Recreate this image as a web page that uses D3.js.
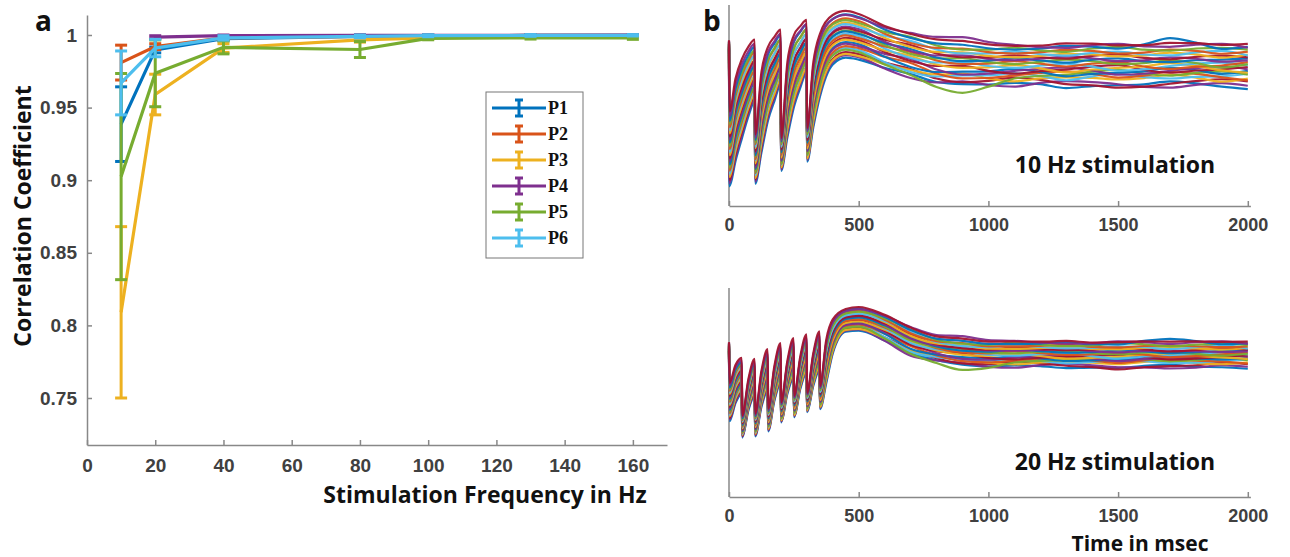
<!DOCTYPE html>
<html>
<head>
<meta charset="utf-8">
<script src="https://d3js.org/d3.v7.min.js"></script>
<style>
  body { margin: 0; background: #fff; }
  .tick text { font-family: "Liberation Sans", Arial, sans-serif; font-weight: bold; fill: #404040; }
  .lbl { font-family: "Open Sans", sans-serif; font-weight: bold; fill: #111; }
</style>
</head>
<body>
<script>
// ---- panel a data ----
const freqs = [10, 20, 40, 80, 100, 130, 160];
const series = ["P1", "P2", "P3", "P4", "P5", "P6"];
const colors = ["#0072BD", "#D95319", "#EDB120", "#7E2F8E", "#77AC30", "#4DBEEE", "#A2142F"];
const means = [
  [0.9386, 0.9897, 0.9975, 0.9990, 0.9995, 0.9997, 0.9998],
  [0.981, 0.992, 0.998, 0.999, 0.9995, 0.9997, 0.9998],
  [0.809, 0.959, 0.991, 0.9966, 0.998, 0.999, 0.9992],
  [null, 0.9985, 0.9995, 0.9997, 0.9998, 0.9998, 0.9999],
  [0.9025, 0.9736, 0.9915, 0.990, 0.9977, 0.998, 0.998],
  [0.967, 0.991, 0.998, 0.9990, 0.9995, 0.9997, 0.9998]
];
const errs = [
  [0.0257, 0.002, 0.0015, 0.001, 0.0005, 0.0004, 0.0003],
  [0.012, 0.002, 0.001, 0.0008, 0.0005, 0.0004, 0.0003],
  [0.059, 0.014, 0.003, 0.0015, 0.001, 0.0006, 0.0005],
  [null, 0.001, 0.0005, 0.0003, 0.0002, 0.0002, 0.0002],
  [0.071, 0.023, 0.0045, 0.0055, 0.001, 0.0008, 0.001],
  [0.022, 0.006, 0.0015, 0.001, 0.0007, 0.0006, 0.0005]
];
const xTicksA = [0, 20, 40, 60, 80, 100, 120, 140, 160];
const yTicksA = [0.75, 0.8, 0.85, 0.9, 0.95, 1];
const yTickLabelsA = ["0.75", "0.8", "0.85", "0.9", "0.95", "1"];

// ---- panel b data (normalised response 0-100, read as band envelopes) ----
const t10 = [0, 2, 25, 50, 75, 99, 101, 125, 150, 175, 199, 201, 225, 250, 275, 299, 301, 325, 350, 400, 450, 500,
  600, 700, 800, 900, 1000, 1100, 1200, 1300, 1400, 1500, 1600, 1700, 1800, 1900, 2000];
const hi10 = [82.6, 47.8, 64.2, 74.1, 80.1, 83.6, 36.3, 67.7, 80.1, 85.1, 88.6, 34.3, 72.6, 86.1, 90.5, 93.5, 39.3, 72.6, 86.6, 96.0, 98.0, 96.5,
  91.0, 87.6, 84.1, 82.6, 81.6, 81.6, 81.1, 81.6, 82.0, 81.6, 81.1, 81.6, 82.0, 81.6, 81.1];
const lo10 = [77.6, 9.0, 21.4, 32.8, 43.8, 51.2, 10.4, 25.4, 41.3, 51.2, 59.2, 16.9, 32.8, 47.8, 57.7, 65.2, 21.4, 37.8, 52.7, 69.2, 72.6, 71.6,
  66.7, 62.7, 59.2, 58.7, 57.7, 57.7, 58.2, 57.2, 57.7, 57.7, 57.2, 57.7, 57.7, 57.2, 57.2];

const t20 = [0, 2, 25, 49, 51, 75, 99, 101, 125, 149, 151, 175, 199, 201, 225, 249, 251, 275, 299, 301, 325, 349, 351, 375, 400, 450, 500,
  600, 700, 800, 900, 1000, 1100, 1200, 1300, 1400, 1500, 1600, 1700, 1800, 1900, 2000];
const hi20 = [74.2, 55.0, 63.6, 67.0, 39.2, 56.9, 66.5, 40.2, 60.8, 71.3, 42.6, 63.2, 74.2, 45.5, 65.6, 76.6, 48.8, 67.9, 78.5, 50.2, 69.4, 79.9, 53.6, 76.1, 85.6, 90.4, 91.4,
  88.0, 82.3, 77.5, 76.1, 75.1, 75.6, 75.1, 75.1, 74.6, 75.1, 75.1, 74.6, 75.1, 75.1, 74.6];
const lo20 = [69.4, 35.9, 44.5, 48.8, 28.2, 41.2, 47.9, 28.7, 42.6, 50.2, 31.1, 45.5, 53.6, 35.4, 48.8, 56.0, 37.8, 51.2, 58.4, 40.2, 52.6, 59.8, 41.6, 53.6, 67.9, 78.5, 79.0,
  73.7, 67.0, 64.1, 62.2, 60.8, 60.8, 61.2, 60.8, 60.8, 60.3, 60.8, 60.8, 60.3, 60.8, 60.8];

// position of each trace inside the band (0 = lower edge, 1 = upper edge) at these times
const fracT = [0, 500, 700, 900, 1100, 1300, 1500, 1700, 1900, 2000];
const traceFracs = [
  [0.02, 0.05, 0.12, 0.08, 0.15, 0.06, 0.10, 0.18, 0.09, 0.04],
  [0.06, 0.10, 0.04, 0.14, 0.07, 0.20, 0.12, 0.05, 0.16, 0.11],
  [0.10, 0.16, 0.22, 0.12, 0.26, 0.14, 0.05, 0.13, 0.24, 0.20],
  [0.14, 0.12, 0.20, 0.30, 0.18, 0.28, 0.22, 0.32, 0.19, 0.26],
  [0.18, 0.24, 0.16, 0.26, 0.35, 0.22, 0.34, 0.24, 0.30, 0.36],
  [0.22, 0.28, 0.34, 0.20, 0.30, 0.40, 0.26, 0.38, 0.28, 0.22],
  [0.26, 0.20, 0.10, -0.10, 0.24, 0.33, 0.42, 0.30, 0.40, 0.34],
  [0.30, 0.36, 0.26, 0.34, 0.44, 0.30, 0.36, 0.46, 0.35, 0.42],
  [0.34, 0.32, 0.42, 0.28, 0.40, 0.48, 0.32, 0.40, 0.50, 0.45],
  [0.38, 0.44, 0.38, 0.46, 0.34, 0.44, 0.52, 0.36, 0.44, 0.50],
  [0.42, 0.40, 0.48, 0.42, 0.52, 0.38, 0.46, 0.56, 0.42, 0.38],
  [0.46, 0.52, 0.44, 0.54, 0.46, 0.56, 0.40, 0.50, 0.58, 0.54],
  [0.50, 0.48, 0.56, 0.50, 0.60, 0.50, 0.58, 0.44, 0.52, 0.60],
  [0.54, 0.58, 0.52, 0.62, 0.54, 0.64, 0.54, 0.62, 0.48, 0.56],
  [0.58, 0.56, 0.62, 0.56, 0.66, 0.58, 0.66, 0.58, 0.64, 0.68],
  [0.62, 0.66, 0.58, 0.68, 0.62, 0.70, 0.60, 0.68, 0.60, 0.64],
  [0.66, 0.62, 0.70, 0.64, 0.72, 0.66, 0.74, 0.64, 0.72, 0.70],
  [0.70, 0.74, 0.66, 0.74, 0.68, 0.76, 0.70, 0.78, 0.68, 0.76],
  [0.74, 0.70, 0.78, 0.72, 0.80, 0.72, 0.80, 0.72, 0.82, 0.74],
  [0.78, 0.82, 0.74, 0.82, 0.76, 0.84, 0.76, 0.84, 0.76, 0.82],
  [0.82, 0.78, 0.86, 0.80, 0.88, 0.80, 0.90, 0.82, 0.88, 0.86],
  [0.86, 0.90, 0.84, 0.90, 0.84, 0.92, 0.86, 1.08, 0.86, 0.92],
  [0.92, 0.88, 0.94, 1.06, 0.94, 0.88, 0.96, 0.90, 0.96, 0.90],
  [0.98, 0.96, 0.92, 0.98, 0.92, 0.97, 0.93, 0.98, 0.94, 0.98]
];
const xTicksB = [0, 500, 1000, 1500, 2000];

const W = 1290, H = 557;
const svg = d3.select("body").append("svg").attr("width", W).attr("height", H);

// ================= panel a =================
const xa = d3.scaleLinear().domain([0, 170]).range([87, 667]);
const ya = d3.scaleLinear().domain([0.71763, 1.01377]).range([445, 15]);

const axA = svg.append("g");
axA.append("g").attr("transform", "translate(0,445)")
  .call(d3.axisBottom(xa).tickValues(xTicksA).tickSizeInner(-5).tickSizeOuter(0).tickPadding(14));
axA.append("g").attr("transform", "translate(87,0)")
  .call(d3.axisLeft(ya).tickValues(yTicksA).tickFormat((d, i) => yTickLabelsA[i]).tickSizeInner(-5).tickSizeOuter(0).tickPadding(10));
axA.selectAll(".domain, .tick line").attr("stroke", "#888").attr("stroke-width", 1.5);
axA.selectAll(".tick text").style("font-size", "19px");

const lineA = d3.line().defined(d => d[1] != null).x(d => xa(d[0])).y(d => ya(d[1]));
series.forEach((s, k) => {
  const g = svg.append("g");
  const pts = freqs.map((f, i) => [f, means[k][i], errs[k][i]]);
  g.append("path").datum(pts).attr("d", lineA)
    .attr("fill", "none").attr("stroke", colors[k]).attr("stroke-width", 3.2);
  pts.filter(d => d[1] != null).forEach(d => {
    const x = xa(d[0]), y1 = ya(d[1] - d[2]), y2 = ya(d[1] + d[2]);
    g.append("line").attr("x1", x).attr("x2", x).attr("y1", y1).attr("y2", y2)
      .attr("stroke", colors[k]).attr("stroke-width", 3);
    [y1, y2].forEach(y => g.append("line").attr("x1", x - 6).attr("x2", x + 6).attr("y1", y).attr("y2", y)
      .attr("stroke", colors[k]).attr("stroke-width", 3));
  });
});

// legend
const leg = svg.append("g").attr("transform", "translate(486,92)");
leg.append("rect").attr("width", 97).attr("height", 166).attr("fill", "#fff").attr("stroke", "#777").attr("stroke-width", 1);
series.forEach((s, k) => {
  const y = 16 + k * 26;
  leg.append("line").attr("x1", 6).attr("x2", 60).attr("y1", y).attr("y2", y).attr("stroke", colors[k]).attr("stroke-width", 3);
  leg.append("line").attr("x1", 33).attr("x2", 33).attr("y1", y - 8).attr("y2", y + 8).attr("stroke", colors[k]).attr("stroke-width", 3);
  [y - 8, y + 8].forEach(yy => leg.append("line").attr("x1", 29).attr("x2", 37).attr("y1", yy).attr("y2", yy).attr("stroke", colors[k]).attr("stroke-width", 3));
  leg.append("text").attr("x", 62).attr("y", y + 6).text(s)
    .style("font-family", "'Liberation Serif', serif").style("font-weight", "bold").style("font-size", "18px").attr("fill", "#111");
});

svg.append("text").attr("class", "lbl").attr("x", 485).attr("y", 503).attr("text-anchor", "middle")
  .style("font-size", "23px").text("Stimulation Frequency in Hz");
svg.append("text").attr("class", "lbl").attr("transform", "translate(31,216) rotate(-90)").attr("text-anchor", "middle")
  .style("font-size", "23px").text("Correlation Coefficient");
svg.append("text").attr("class", "lbl").attr("x", 35).attr("y", 31).style("font-size", "28px").text("a");

// ================= panel b =================
const xb = d3.scaleLinear().domain([0, 2010]).range([729, 1250.4]);

function drawTraces(yScale, tArr, hiArr, loArr, baseY, topY, label, labelY) {
  const g = svg.append("g");
  g.append("g").attr("transform", `translate(0,${baseY})`)
    .call(d3.axisBottom(xb).tickValues(xTicksB).tickFormat(d3.format("d")).tickSizeInner(-5).tickSizeOuter(0).tickPadding(12));
  g.append("line").attr("x1", 729).attr("x2", 729).attr("y1", topY).attr("y2", baseY);
  g.selectAll(".domain, .tick line, line").attr("stroke", "#888").attr("stroke-width", 1.5);
  g.selectAll(".tick text").style("font-size", "18px");

  const line = d3.line().x(d => xb(d[0])).y(d => yScale(d[1])).curve(d3.curveMonotoneX);
  traceFracs.forEach((row, r) => {
    const fs = d3.scaleLinear().domain(fracT).range(row).clamp(true);
    const pts = tArr.map((t, i) => [t, loArr[i] + fs(t) * (hiArr[i] - loArr[i])]);
    g.append("path").datum(pts).attr("d", line).attr("fill", "none")
      .attr("stroke", colors[(r * 3) % 7]).attr("stroke-width", 2.2).attr("stroke-opacity", 0.95);
  });
  svg.append("text").attr("class", "lbl").attr("x", 1115).attr("y", labelY).attr("text-anchor", "middle")
    .style("font-size", "23px").text(label);
}

const yTop = d3.scaleLinear().domain([0, 100]).range([206, 5]);
const yBot = d3.scaleLinear().domain([0, 100]).range([497, 288]);
drawTraces(yTop, t10, hi10, lo10, 206, 5, "10 Hz stimulation", 173);
drawTraces(yBot, t20, hi20, lo20, 497, 288, "20 Hz stimulation", 470);

svg.append("text").attr("class", "lbl").attr("x", 1140).attr("y", 551).attr("text-anchor", "middle")
  .style("font-size", "21px").text("Time in msec");
svg.append("text").attr("class", "lbl").attr("x", 703).attr("y", 31).style("font-size", "28px").text("b");
</script>
</body>
</html>
